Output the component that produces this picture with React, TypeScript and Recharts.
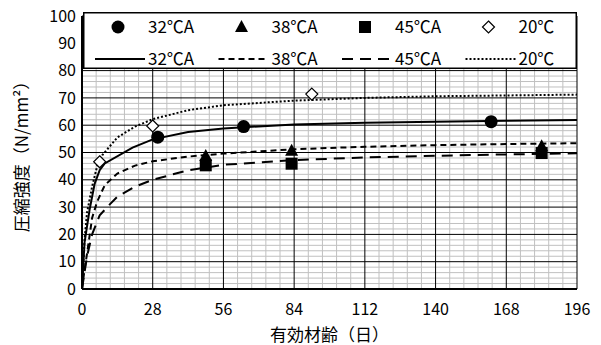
import { ComposedChart, Line, Scatter, XAxis, YAxis, ReferenceLine, Legend } from "recharts";

// measured points (day, strength)
const points32CA = [[30, 55.6], [64, 59.5], [162, 61.3]];
const points38CA = [[49, 48.7], [83, 50.6], [182, 52.3]];
const points45CA = [[49, 45.3], [83, 45.9], [182, 49.8]];
const points20C = [[7, 46.6], [28, 59.7], [91, 71.4]];

// estimated curves
const curve32CA = [[0, 0], [1, 17], [3, 29], [5, 38.5], [7, 43.5], [9, 46], [20, 51.8], [28, 54.8], [42, 57.5], [56, 58.8], [84, 60.3], [112, 60.9], [140, 61.3], [168, 61.6], [196, 61.9]];
const curve38CA = [[0, 0], [1, 7], [2, 13], [4, 26], [6, 32], [9, 38], [14, 42.3], [21, 45.2], [28, 46.8], [42, 48.5], [56, 49.6], [84, 51.2], [112, 52.1], [140, 52.7], [168, 53.1], [196, 53.4]];
const curve45CA = [[0, 0], [1, 6], [2, 12], [4, 20], [7, 27], [11, 31], [14, 33.8], [21, 37.5], [28, 40], [42, 43.5], [56, 45.5], [84, 47.2], [112, 48.2], [140, 48.8], [168, 49.3], [196, 49.7]];
const curve20C = [[0, 0], [1, 18], [2, 28], [4, 37.5], [6, 45], [8, 49], [14, 55.5], [21, 59.5], [28, 62.2], [42, 65.5], [56, 67.3], [84, 69], [112, 70], [140, 70.6], [168, 70.9], [196, 71.2]];

const seriesNames = ["32℃A", "38℃A", "45℃A", "20℃"];
const xTicks = [0, 28, 56, 84, 112, 140, 168, 196];
const yTicks = [0, 10, 20, 30, 40, 50, 60, 70, 80, 90, 100];
const xMinor = Array.from({ length: 36 }, (_, i) => i).filter((i) => i % 5 !== 0).map((i) => i * 5.6);
const yMinor = Array.from({ length: 51 }, (_, i) => i * 2).filter((v) => v % 10 !== 0);

const toRows = (arr: number[][]) => arr.map(([day, value]) => ({ day, value }));

const FONT = '"Noto Sans CJK JP", "Noto Sans", sans-serif';
const dashes = ["", "6 4", "11 7", "2 2"];

function Marker({ kind, cx, cy }: { kind: number; cx: number; cy: number }) {
  if (kind === 0) return <circle cx={cx} cy={cy} r={6.5} fill="#000" />;
  if (kind === 1) return <path d={`M${cx},${cy - 7} L${cx + 6.5},${cy + 5} L${cx - 6.5},${cy + 5} Z`} fill="#000" />;
  if (kind === 2) return <rect x={cx - 6} y={cy - 6} width={12} height={12} fill="#000" />;
  return <path d={`M${cx},${cy - 6} L${cx + 6},${cy} L${cx},${cy + 6} L${cx - 6},${cy} Z`} fill="#fff" stroke="#000" strokeWidth={1.2} />;
}

function LegendBox() {
  return (
    <svg width={494} height={57} style={{ display: "block" }}>
      <rect x={0.75} y={0.75} width={492.5} height={55.5} fill="#fff" stroke="#000" strokeWidth={1.5} />
      {seriesNames.map((name, i) => {
        const x0 = 12 + i * 123.5;
        return (
          <g key={name}>
            <Marker kind={i} cx={x0 + 23} cy={15} />
            <text x={x0 + 53} y={15} dy="0.35em" fontSize={17} fontFamily={FONT} fill="#000">{name}</text>
            <line x1={x0} x2={x0 + 50} y1={47} y2={47} stroke="#000" strokeWidth={2} strokeDasharray={dashes[i]} />
            <text x={x0 + 53} y={47} dy="0.35em" fontSize={17} fontFamily={FONT} fill="#000">{name}</text>
          </g>
        );
      })}
    </svg>
  );
}

export default function App() {
  const tick = { fontSize: 16, fill: "#000", fontFamily: FONT };
  return (
    <div style={{ position: "absolute", left: 0, top: 0, background: "#fff" }}>
      <ComposedChart width={601} height={345} margin={{ top: 16, right: 24, bottom: 0, left: 0 }}>
        <XAxis
          type="number"
          dataKey="day"
          domain={[0, 196]}
          ticks={xTicks}
          interval={0}
          tickLine={false}
          tickMargin={9}
          axisLine={{ stroke: "#000", strokeWidth: 2 }}
          tick={tick}
          height={56}
          label={{ value: "有効材齢（日）", position: "insideBottom", offset: 4, fontSize: 17, fill: "#000", fontFamily: FONT }}
        />
        <YAxis
          type="number"
          dataKey="value"
          domain={[0, 100]}
          ticks={yTicks}
          interval={0}
          tickLine={false}
          tickMargin={0}
          axisLine={{ stroke: "#000", strokeWidth: 2 }}
          tick={tick}
          width={82}
          label={{ value: "圧縮強度（N/mm²）", angle: -90, position: "center", dx: -19, fontSize: 17, fill: "#000", fontFamily: FONT }}
        />
        {xMinor.map((v) => (
          <ReferenceLine key={`xm${v}`} x={v} stroke="#c0c0c0" strokeWidth={1} />
        ))}
        {yMinor.map((v) => (
          <ReferenceLine key={`ym${v}`} y={v} stroke="#c0c0c0" strokeWidth={1} />
        ))}
        {yTicks.map((v) => (
          <ReferenceLine key={`yM${v}`} y={v} stroke="#000" strokeWidth={1} />
        ))}
        {xTicks.map((v) => (
          <ReferenceLine key={`xM${v}`} x={v} stroke="#000" strokeWidth={1} />
        ))}
        {[curve32CA, curve38CA, curve45CA, curve20C].map((c, i) => (
          <Line
            key={`line${i}`}
            data={toRows(c)}
            dataKey="value"
            type="linear"
            stroke="#000"
            strokeWidth={2}
            strokeDasharray={dashes[i] || undefined}
            dot={false}
            activeDot={false}
            isAnimationActive={false}
          />
        ))}
        {[points32CA, points38CA, points45CA, points20C].map((p, i) => (
          <Scatter
            key={`pts${i}`}
            data={toRows(p)}
            dataKey="value"
            isAnimationActive={false}
            shape={(props: any) => <Marker kind={i} cx={props.cx} cy={props.cy} />}
          />
        ))}
        <Legend
          layout="horizontal"
          verticalAlign="middle"
          align="center"
          width={494}
          height={57}
          wrapperStyle={{ left: 83, top: 12, width: 494, height: 57 }}
          content={() => <LegendBox />}
        />
      </ComposedChart>
    </div>
  );
}
